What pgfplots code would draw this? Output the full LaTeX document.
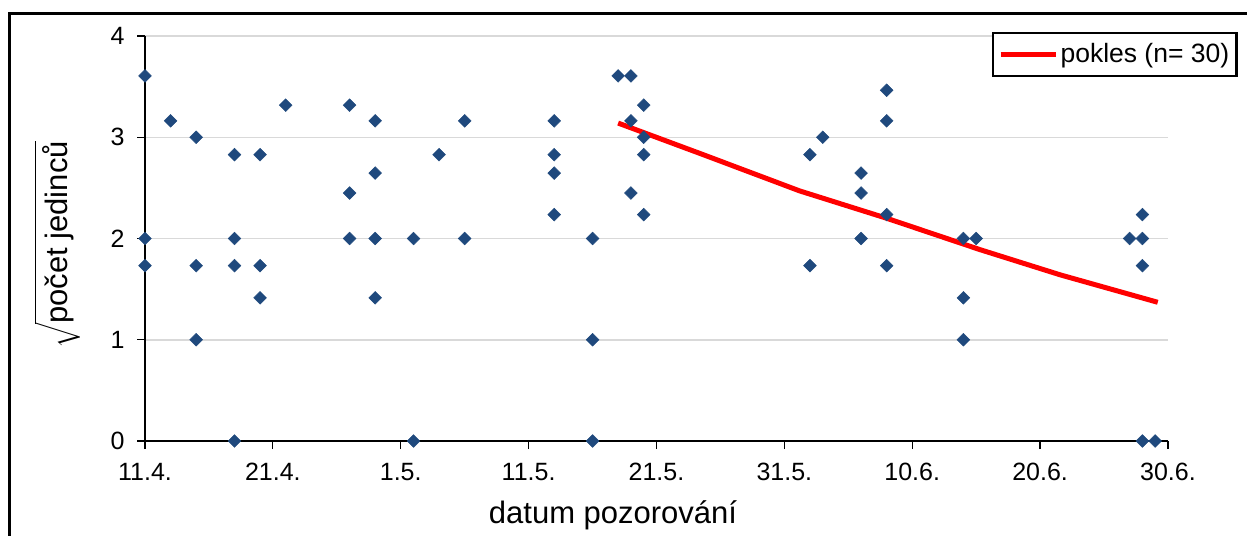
\documentclass[border=0pt]{standalone}
\usepackage{fontspec}
\setmainfont{Liberation Sans}
\usepackage{pgfplots}
\pgfplotsset{compat=1.18}
\usepackage{pgfplotstable}

\definecolor{markblue}{HTML}{1F497D}
\definecolor{gridgray}{HTML}{D9D9D9}

% observations: day after 11.4. and square root of the count
\pgfplotstableread{
day val
0 3.606
0 2
0 1.732
2 3.162
4 3
4 1.732
4 1
7 2.828
7 2
7 1.732
7 0
9 2.828
9 1.732
9 1.414
11 3.317
16 3.317
16 2.449
16 2
18 3.162
18 2.646
18 2
18 1.414
21 2
21 0
23 2.828
25 3.162
25 2
32 3.162
32 2.828
32 2.646
32 2.236
35 2
35 1
35 0
37 3.606
38 3.606
38 3.162
38 2.449
39 3.317
39 3
39 2.828
39 2.236
52 2.828
52 1.732
53 3
56 2.646
56 2.449
56 2
58 3.464
58 3.162
58 2.236
58 1.732
64 2
64 1.414
64 1
65 2
77 2
78 2.236
78 2
78 1.732
78 0
79 0
}\obs

% declining trend
\pgfplotstableread{
day val
37.0 3.14
43.4 2.84
51.2 2.47
58.0 2.20
65.3 1.89
71.6 1.64
79.2 1.37
}\trend

\begin{document}
\begin{tikzpicture}
\useasboundingbox (0,0) rectangle (498.8pt,-214.4pt);
% outer frame
\draw[line width=1.2pt] (3.8pt,-260pt) -- (3.8pt,-5.4pt) -- (520pt,-5.4pt);
\begin{axis}[
  scale only axis,
  width=409.2pt, height=162pt,
  at={(58pt,-176.4pt)}, anchor=south west,
  xmin=0, xmax=80, ymin=0, ymax=4,
  axis x line*=bottom, axis y line*=left,
  axis line style={-, line width=0.5pt, black},
  xtick={0,10,...,80},
  xticklabels={11.4.,21.4.,1.5.,11.5.,21.5.,31.5.,10.6.,20.6.,30.6.},
  ytick={0,1,2,3,4},
  tick align=outside,
  major tick length=3.2pt,
  tick style={black, line width=0.5pt},
  ymajorgrids,
  grid style={gridgray, line width=0.6pt},
  /pgf/number format/assume math mode=true,
  ticklabel style={font=\fontsize{10}{12}\selectfont},
  xticklabel style={yshift=-2pt},
  yticklabel style={xshift=-1.5pt},
  xlabel={datum pozorování},
  xlabel style={font=\fontsize{12.4}{14}\selectfont, at={(axis description cs:0.4575,-0.183)}, anchor=center},
  ylabel={$\sqrt{\mbox{počet jedinců}}$},
  ylabel style={font=\fontsize{12.4}{14}\selectfont, at={(axis description cs:-0.086,0.484)}, anchor=center, rotate=0},
  legend style={at={(axis description cs:1.0684,1.0099)}, anchor=north east,
    draw=black, line width=1pt, font=\fontsize{10.6}{12}\selectfont,
    inner xsep=2pt, inner ysep=2pt,
    nodes={inner xsep=1pt}},
  legend cell align=left,
  legend image code/.code={\draw[#1, line width=2pt] (0pt,0pt) -- (22pt,0pt);},
  clip=false,
]
\addplot[only marks, mark=square*, mark size=1.8pt,
  mark options={rotate=45, fill=markblue, draw=markblue, line width=0.2pt},
  forget plot] table[x=day, y=val] {\obs};
\addplot[red, line width=2pt] table[x=day, y=val] {\trend};
\addlegendentry{pokles (n= 30)}
\end{axis}
\end{tikzpicture}
\end{document}
